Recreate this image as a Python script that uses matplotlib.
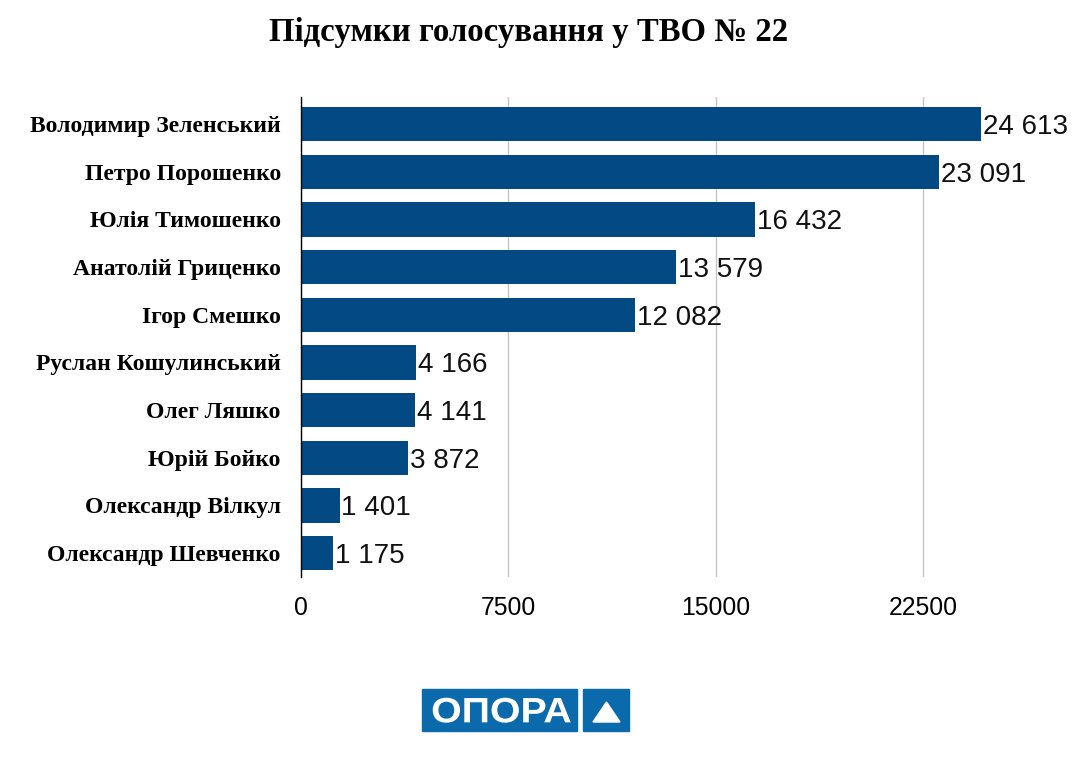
import matplotlib
matplotlib.use('Agg')
import matplotlib.pyplot as plt
from matplotlib.patches import Rectangle, Polygon, PathPatch
from matplotlib.textpath import TextPath
from matplotlib.font_manager import FontProperties
from matplotlib.transforms import Affine2D

candidates = [
    'Володимир Зеленський', 'Петро Порошенко', 'Юлія Тимошенко',
    'Анатолій Гриценко', 'Ігор Смешко', 'Руслан Кошулинський',
    'Олег Ляшко', 'Юрій Бойко', 'Олександр Вілкул', 'Олександр Шевченко',
]
votes = [24613, 23091, 16432, 13579, 12082, 4166, 4141, 3872, 1401, 1175]
x_ticks = [0, 7500, 15000, 22500]
title = 'Підсумки голосування у ТВО № 22'

BAR_COLOR = '#034a84'
LOGO_COLOR = '#0b6aab'

fig = plt.figure(figsize=(10.85, 7.63), dpi=100)
ax = fig.add_axes([0.2774, 0.2438, 0.7134, 0.6291])

ypos = list(range(len(candidates)))
ax.barh(ypos, votes, height=0.72, color=BAR_COLOR, zorder=3)

for y, v in zip(ypos, votes):
    label = f'{v:,}'.replace(',', ' ')
    ax.text(v + 60, y, label, va='center_baseline', ha='left', fontsize=20,
            family='Liberation Sans', color='#111111', zorder=4)

ax.set_ylim(9.5, -0.57)
ax.set_xlim(0, 28000)
ax.set_yticks(ypos)
ax.set_yticklabels(candidates, family='Liberation Serif', fontweight='bold', fontsize=17)
ax.set_xticks(x_ticks)
ax.set_xticklabels([str(t) for t in x_ticks], family='Liberation Sans', fontsize=17.8)
ax.tick_params(axis='both', length=0)
ax.tick_params(axis='x', pad=14)
ax.tick_params(axis='y', pad=14.5)

ax.grid(axis='x', color='#c4c4c4', linewidth=1, zorder=0)
for side in ['top', 'right', 'bottom']:
    ax.spines[side].set_visible(False)
ax.spines['left'].set_color('black')
ax.spines['left'].set_linewidth(1)
ax.spines['left'].set_zorder(5)

fig.text(0.487, 0.958, title, ha='center', va='center', family='Liberation Serif',
         fontweight='bold', fontsize=23.6)

# logo (pixel coords, y from top)
W, H = 1085, 763
fig.patches.append(Rectangle((422 / W, 1 - 731 / H), 155 / W, 42 / H,
                             transform=fig.transFigure, color=LOGO_COLOR))
fig.patches.append(Rectangle((583 / W, 1 - 731 / H), 46 / W, 42 / H,
                             transform=fig.transFigure, color=LOGO_COLOR))
fig.patches.append(Polygon([(593 / W, 1 - 722 / H), (620 / W, 1 - 722 / H), (606.5 / W, 1 - 702 / H)],
                           closed=True, transform=fig.transFigure, color='white'))

tp = TextPath((0, 0), 'ОПОРА', size=100,
              prop=FontProperties(family='Liberation Sans', weight='bold'))
bb = tp.get_extents()
sx = 138 / bb.width
sy = 25 / bb.height
trans = (Affine2D().translate(-bb.x0, -bb.y0).scale(sx, sy)
         .translate(432.7, H - 722.7).scale(1 / W, 1 / H) + fig.transFigure)
fig.patches.append(PathPatch(tp, transform=trans, color='white', lw=0))

fig.savefig('out.png', dpi=100)
